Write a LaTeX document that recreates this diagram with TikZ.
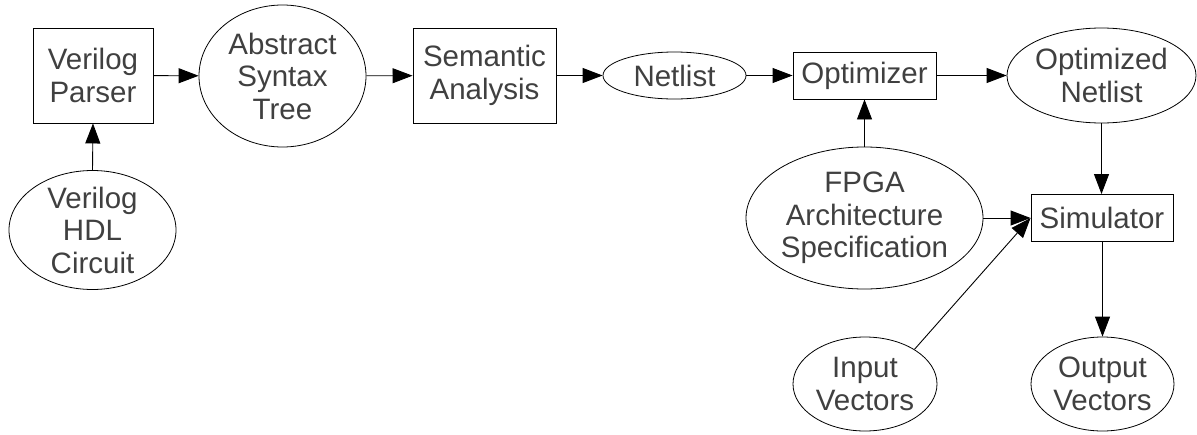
\documentclass[tikz,border=0pt]{standalone}
\usepackage{fontspec}
\setmainfont{Liberation Sans}
\usetikzlibrary{shapes.geometric,arrows.meta}
\definecolor{txtgray}{RGB}{64,64,64}

\begin{document}
\begin{tikzpicture}[x=1pt,y=-1pt,
  every node/.style={font=\fontsize{29.5}{32.5}\selectfont, text=txtgray,
                     align=center, inner sep=0pt},
  box/.style={draw=black, line width=0.9pt, rectangle},
  oval/.style={draw=black, line width=0.8pt, ellipse},
  link/.style={-{Triangle[length=20pt,width=15pt]}, line width=0.9pt}
]
\useasboundingbox (0,0) rectangle (1197,434);

% processing stages
\node[box, minimum width=120pt, minimum height=95pt] (pars) at (93,75.5) {Verilog\\Parser};
\node[box, minimum width=143pt, minimum height=95pt] (sem) at (484.5,75.5) {Semantic\\Analysis};
\node[box, minimum width=143pt, minimum height=47pt] (opt) at (864.5,75.5) {Optimizer};
\node[box, minimum width=142pt, minimum height=47pt] (sim) at (1102,218) {Simulator};

% data items
\node[oval, minimum width=167pt, minimum height=142pt,
      label={center:{Abstract\\Syntax\\Tree}}] (ast) at (282.5,76) {};
\node[oval, minimum width=143pt, minimum height=47pt,
      label={center:{Netlist}}] (net) at (674.5,75.5) {};
\node[oval, minimum width=189pt, minimum height=95pt,
      label={center:{Optimized\\Netlist}}] (onet) at (1101.5,75.5) {};
\node[oval, minimum width=167pt, minimum height=119pt,
      label={center:{Verilog\\HDL\\Circuit}}] (hdl) at (92.5,230) {};
\node[oval, minimum width=237pt, minimum height=142pt,
      label={center:{FPGA\\Architecture\\Specification}}] (fpga) at (864.5,218) {};
\node[oval, minimum width=144pt, minimum height=94pt,
      label={center:{Input\\Vectors}}] (inv) at (865,384) {};
\node[oval, minimum width=143pt, minimum height=94pt,
      label={center:{Output\\Vectors}}] (outv) at (1102.5,384) {};

% flow
\draw[link] (pars) -- (ast);
\draw[link] (ast) -- (sem);
\draw[link] (sem) -- (net);
\draw[link] (net) -- (opt);
\draw[link] (opt) -- (onet);
\draw[link] (hdl.north) -- (pars.south);
\draw[link] (fpga.north) -- (opt.south);
\draw[link] (onet.south) -- (onet.south |- sim.north);
\draw[link] (fpga) -- (sim.west);
\draw[link] (inv.35) -- (sim.west);
\draw[link] (sim.south -| outv.north) -- (outv.north);
\end{tikzpicture}
\end{document}
